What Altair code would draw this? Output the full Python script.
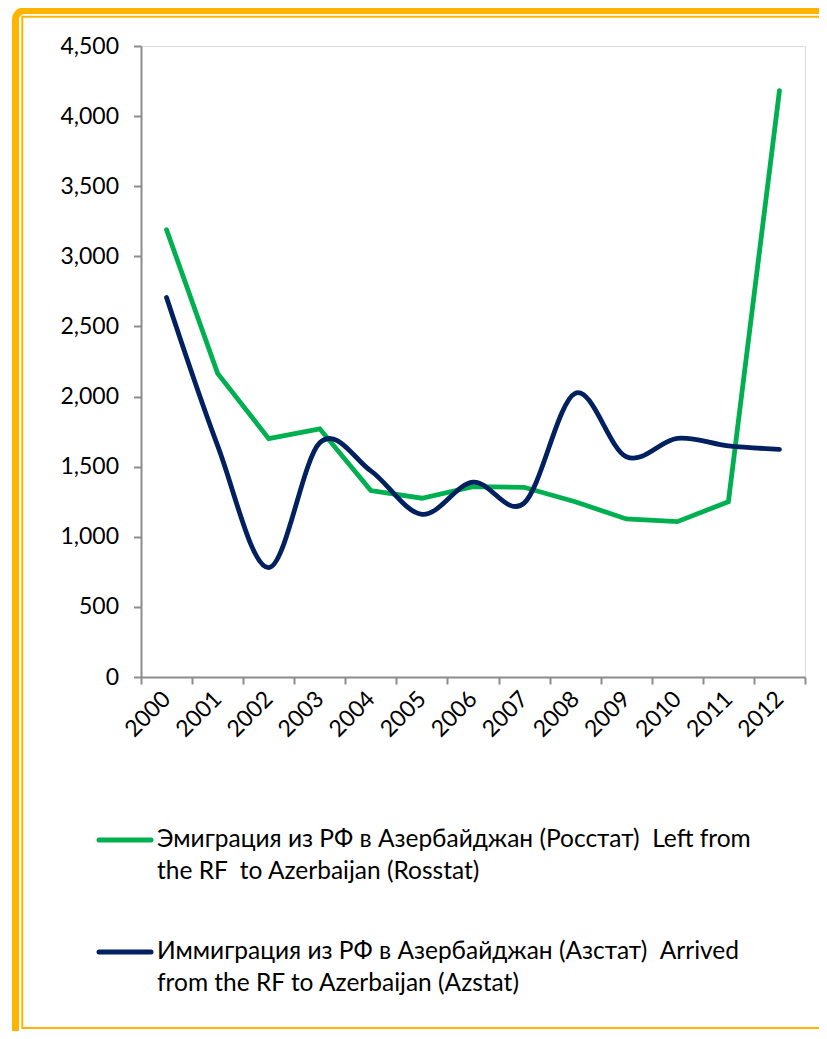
import altair as alt
import pandas as pd

years = ["2000", "2001", "2002", "2003", "2004", "2005", "2006",
         "2007", "2008", "2009", "2010", "2011", "2012"]
rosstat = [3190, 2165, 1700, 1770, 1330, 1275, 1357, 1353, 1250, 1127, 1108, 1250, 4182]
azstat = [2706, 1650, 780, 1670, 1470, 1160, 1390, 1240, 2023, 1571, 1702, 1648, 1624]
y_ticks = [0, 500, 1000, 1500, 2000, 2500, 3000, 3500, 4000, 4500]
legend_labels = [
    "Эмиграция из РФ в Азербайджан (Росстат)\u00a0 Left from\nthe RF\u00a0 to Azerbaijan (Rosstat)",
    "Иммиграция из РФ в Азербайджан (Азстат)\u00a0 Arrived\nfrom the RF to Azerbaijan (Azstat)",
]

GREEN = "#00B050"
NAVY = "#002060"
ORANGE = "#FFB400"
FONT = "Lato"

df = pd.DataFrame({"year": years, "rosstat": rosstat, "azstat": azstat})
one = pd.DataFrame({"k": [0]})
leg = pd.DataFrame({"label": legend_labels, "series": ["rosstat", "azstat"]})

W, H = 664, 631

xenc = alt.X(
    "year:O",
    scale=alt.Scale(type="band", paddingInner=0, paddingOuter=0),
    axis=alt.Axis(
        title=None, labelAngle=-45, labelAlign="right", labelBaseline="middle",
        tickBand="extent", tickSize=7, labelPadding=11, domainColor="#8c8c8c",
        tickColor="#8c8c8c", domainWidth=2, tickWidth=2, labelFont=FONT,
        labelFontSize=23, labelColor="#000000", grid=False,
    ),
)
yscale = alt.Scale(domain=[0, 4500], nice=False)
yaxis = alt.Axis(
    title=None, values=y_ticks, format=",.0f", tickSize=7.5, labelPadding=15,
    domainColor="#8c8c8c", tickColor="#8c8c8c", domainWidth=2, tickWidth=2,
    labelFont=FONT, labelFontSize=23, labelColor="#000000", grid=False,
)

green_line = alt.Chart(df).mark_line(
    color=GREEN, strokeWidth=4.8, strokeCap="round", strokeJoin="miter"
).encode(x=xenc, y=alt.Y("rosstat:Q", scale=yscale, axis=yaxis))

navy_line = alt.Chart(df).mark_line(
    color=NAVY, strokeWidth=4.8, strokeCap="round", interpolate="cardinal", tension=0
).encode(x=xenc, y=alt.Y("azstat:Q", scale=yscale, axis=yaxis))

# decorative frame
outer = alt.Chart(one).mark_rect(
    filled=False, stroke=ORANGE, strokeWidth=7, cornerRadius=9
).encode(x=alt.value(-125.5), x2=alt.value(760), y=alt.value(-35.5), y2=alt.value(1030))
inner = alt.Chart(one).mark_rect(
    filled=False, stroke=ORANGE, strokeWidth=2
).encode(x=alt.value(-118.7), x2=alt.value(740), y=alt.value(-29.2), y2=alt.value(982))

# legend
def legend_entry(series, color, ypos):
    sub = leg[leg["series"] == series]
    sym = alt.Chart(sub).mark_rule(color=color, strokeWidth=5, strokeCap="round").encode(
        x=alt.value(-42), x2=alt.value(10), y=alt.value(ypos)
    )
    txt = alt.Chart(sub).mark_text(
        align="left", baseline="middle", lineBreak="\n", lineHeight=32,
        font=FONT, fontSize=24.5, color="#000000"
    ).encode(text="label:N", x=alt.value(16), y=alt.value(ypos))
    return sym + txt

chart = alt.layer(
    outer, inner, green_line, navy_line,
    legend_entry("rosstat", GREEN, 794),
    legend_entry("azstat", NAVY, 906),
).properties(
    width=W, height=H,
    autosize=alt.AutoSizeParams(type="none"),
    padding={"left": 133, "top": 38, "right": 14, "bottom": 354},
).configure_view(stroke=None).configure(background="#ffffff")

chart.save("out.html", embed_options={"renderer": "svg", "actions": False})
